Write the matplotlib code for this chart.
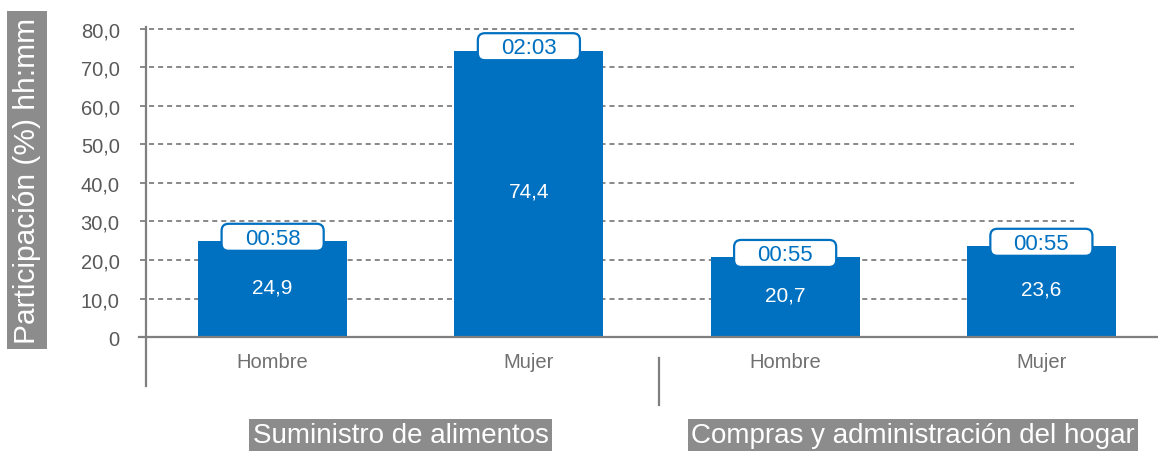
import numpy as np
import matplotlib
matplotlib.use('Agg')
import matplotlib.pyplot as plt
from matplotlib.patches import FancyBboxPatch

plt.rcParams['font.family'] = ['Liberation Sans', 'DejaVu Sans']

# participation share (%) and average daily time per activity / sex
groups = ['Suministro de alimentos', 'Compras y administración del hogar']
categories = ['Hombre', 'Mujer', 'Hombre', 'Mujer']
participation = [24.9, 74.4, 20.7, 23.6]
hours = ['00:58', '02:03', '00:55', '00:55']
yticks = [0, 10, 20, 30, 40, 50, 60, 70, 80]

blue = '#0070c0'
grey_line = '#7f7f7f'
grey_box = '#8c8c8c'

fig = plt.figure(figsize=(11.58, 4.52), dpi=100)
ax = fig.add_axes([0.1261, 0.2522, 0.8739, 0.6985])

x = np.arange(len(categories))
px_x = 256.0   # pixels per x unit
px_y = 3.85    # pixels per y unit
ax.set_xlim(-126.5 / px_x, 3 + 116.5 / px_x)
ax.set_ylim(0, 82)

for s in ax.spines.values():
    s.set_visible(False)

# dashed grid
ax.hlines(yticks[1:], -0.518, 3.127, colors=grey_line, linestyles=(0, (2.8, 2.2)),
          linewidth=1.3, zorder=1, clip_on=False)

bars = ax.bar(x, participation, width=149 / px_x, color=blue, zorder=2)

# axes lines
ax.plot([-0.52, ax.get_xlim()[1]], [0, 0], color=grey_line, lw=1.6, zorder=3, clip_on=False)
ax.plot([-0.494, -0.494], [80.5, -12.7], color=grey_line, lw=1.6, zorder=3, clip_on=False)
ax.plot([1.506, 1.506], [-5.45, -17.7], color=grey_line, lw=1.6, zorder=3, clip_on=False)

ax.set_yticks(yticks)
ax.set_yticklabels(['0'] + [f'{v:.1f}'.replace('.', ',') for v in yticks[1:]])
ax.tick_params(axis='y', length=0, pad=19, labelsize=14.5, labelcolor='#595959')
ax.set_xticks(x)
ax.set_xticklabels(categories)
ax.tick_params(axis='x', length=0, pad=11, labelsize=14.5, labelcolor='#707070')

bw = 102 / px_x
bh = 27 / px_y
for xi, v, h in zip(x, participation, hours):
    ax.text(xi, v / 2 + 0.6, f'{v:.1f}'.replace('.', ','), ha='center', va='center',
            color='white', fontsize=15, zorder=4)
    yc = v + 1.0
    box = FancyBboxPatch((xi - bw / 2, yc - bh / 2), bw, bh,
                         boxstyle='round,pad=0,rounding_size=%f' % (7 / px_x),
                         mutation_aspect=px_x / px_y,
                         facecolor='white', edgecolor=blue, linewidth=1.6,
                         zorder=4, clip_on=False)
    ax.add_patch(box)
    ax.text(xi, yc - 0.3, h, ha='center', va='center', color=blue, fontsize=16,
            zorder=5)

# group labels under the axis
for gx, g in zip([0.5, 2.5], groups):
    ax.text(gx, -25.5, g, ha='center', va='center', color='white', fontsize=20,
            bbox=dict(boxstyle='square,pad=0.12', facecolor=grey_box, edgecolor='none'),
            clip_on=False)

fig.text(0.0233, 0.60, 'Participación (%) hh:mm', rotation=90, ha='center', va='center',
         color='white', fontsize=21.5,
         bbox=dict(boxstyle='square,pad=0.2', facecolor=grey_box, edgecolor='none'))

fig.savefig('out.png', dpi=100)
